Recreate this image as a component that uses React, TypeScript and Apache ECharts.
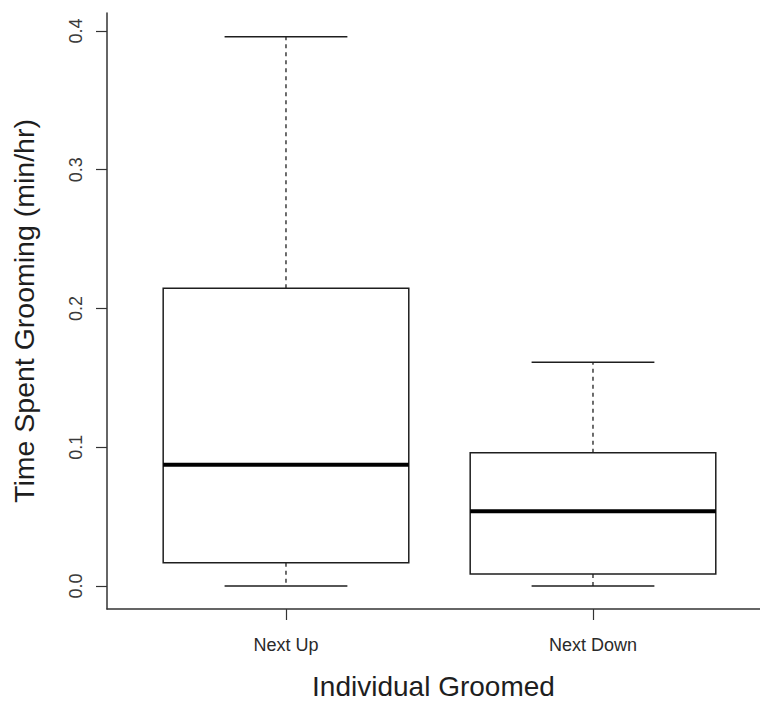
import React, { useEffect, useRef } from "react";
import * as echarts from "echarts";

const categories = ["Next Up", "Next Down"];
const whiskerLow = [0, 0];
const quartile1 = [0.0168, 0.0086];
const medians = [0.0874, 0.0538];
const quartile3 = [0.2146, 0.0961];
const whiskerHigh = [0.3959, 0.1612];
const yTicks = [0, 0.1, 0.2, 0.3, 0.4];
const xTicks = [1, 2];

const FONT = '"Liberation Sans", Arial, sans-serif';
const INK = "#1e1e1e";

export default function App() {
  const ref = useRef<HTMLDivElement>(null);
  useEffect(() => {
    if (!ref.current) return;
    const chart = echarts.init(ref.current, undefined, { renderer: "svg" });
    const data = categories.map((_, i) => [
      i + 1,
      whiskerLow[i],
      quartile1[i],
      medians[i],
      quartile3[i],
      whiskerHigh[i],
    ]);
    const option: any = {
      animation: false,
      backgroundColor: "#ffffff",
      grid: {
        left: 107,
        top: 13,
        right: 0,
        height: 596,
        containLabel: false,
        outerBoundsMode: "none",
      },
      xAxis: {
        type: "value",
        min: 0.417,
        max: 2.544,
        name: "Individual Groomed",
        nameLocation: "middle",
        nameGap: 63,
        nameTextStyle: { fontFamily: FONT, fontSize: 28, color: INK },
        axisLine: { show: true, onZero: false, lineStyle: { color: "#333", width: 1.5 } },
        axisTick: {
          show: true,
          customValues: xTicks,
          length: 11,
          lineStyle: { color: "#333", width: 1.2 },
        },
        axisLabel: {
          show: true,
          customValues: xTicks,
          margin: 27,
          fontFamily: FONT,
          fontSize: 18,
          color: "#2a2a2a",
          formatter: (v: number) => categories[Math.round(v) - 1] ?? "",
        },
        splitLine: { show: false },
      },
      yAxis: {
        type: "value",
        min: -0.016577,
        max: 0.41297,
        name: "Time Spent Grooming (min/hr)",
        nameLocation: "middle",
        nameGap: 69,
        nameRotate: 90,
        nameTextStyle: { fontFamily: FONT, fontSize: 28.5, color: INK },
        axisLine: { show: true, onZero: false, lineStyle: { color: "#333", width: 1.5 } },
        axisTick: {
          show: true,
          customValues: yTicks,
          length: 11,
          lineStyle: { color: "#333", width: 1.2 },
        },
        axisLabel: {
          show: true,
          customValues: yTicks,
          rotate: 90,
          margin: 22,
          fontFamily: FONT,
          fontSize: 18,
          color: "#3a3a3a",
          formatter: (v: number) => v.toFixed(1),
        },
        splitLine: { show: false },
      },
      series: [
        {
          type: "custom",
          data,
          encode: { x: 0, y: [1, 2, 3, 4, 5] },
          renderItem: (params: any, api: any) => {
            const x = api.value(0);
            const lo = api.value(1);
            const q1 = api.value(2);
            const med = api.value(3);
            const q3 = api.value(4);
            const hi = api.value(5);
            const half = api.size([0.8, 0])[0] / 2;
            const capHalf = api.size([0.4, 0])[0] / 2;
            const pLo = api.coord([x, lo]);
            const pQ1 = api.coord([x, q1]);
            const pMed = api.coord([x, med]);
            const pQ3 = api.coord([x, q3]);
            const pHi = api.coord([x, hi]);
            const cx = pMed[0];
            const solid = { stroke: INK, lineWidth: 1.5, fill: "none" };
            const dashed = { stroke: INK, lineWidth: 1.3, lineDash: [4, 4], fill: "none" };
            return {
              type: "group",
              children: [
                {
                  type: "line",
                  shape: { x1: cx, y1: pQ3[1], x2: cx, y2: pHi[1] },
                  style: dashed,
                },
                {
                  type: "line",
                  shape: { x1: cx, y1: pQ1[1], x2: cx, y2: pLo[1] },
                  style: dashed,
                },
                {
                  type: "line",
                  shape: { x1: cx - capHalf, y1: pHi[1], x2: cx + capHalf, y2: pHi[1] },
                  style: solid,
                },
                {
                  type: "line",
                  shape: { x1: cx - capHalf, y1: pLo[1], x2: cx + capHalf, y2: pLo[1] },
                  style: solid,
                },
                {
                  type: "rect",
                  shape: { x: cx - half, y: pQ3[1], width: half * 2, height: pQ1[1] - pQ3[1] },
                  style: { stroke: INK, lineWidth: 1.5, fill: "#ffffff" },
                },
                {
                  type: "line",
                  shape: { x1: cx - half, y1: pMed[1], x2: cx + half, y2: pMed[1] },
                  style: { stroke: "#000", lineWidth: 4, fill: "none" },
                },
              ],
            };
          },
        },
      ],
    };
    chart.setOption(option);
    return () => chart.dispose();
  }, []);
  return (
    <div
      ref={ref}
      style={{ position: "fixed", left: 0, top: 0, width: 760, height: 701, background: "#fff" }}
    />
  );
}
